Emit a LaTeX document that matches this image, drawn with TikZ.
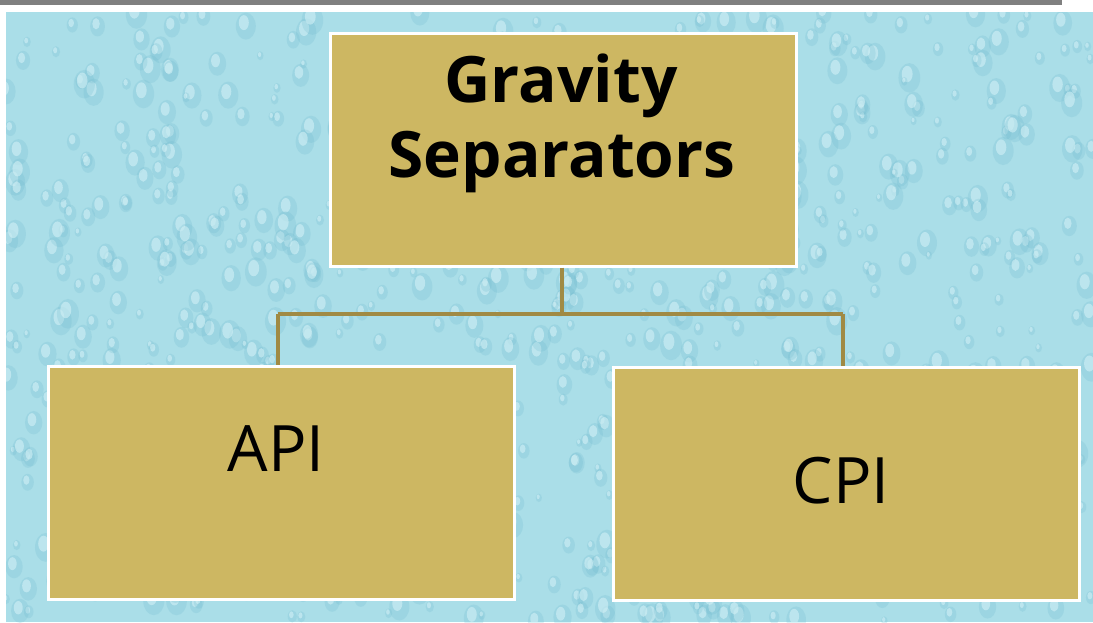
\documentclass[tikz,border=0pt]{standalone}
\usepackage{fontspec}
\setmainfont{Open Sans}
\definecolor{boxfill}{RGB}{205,183,98}
\definecolor{linec}{RGB}{160,138,68}
\definecolor{water}{RGB}{170,222,232}
\definecolor{waterlight}{RGB}{215,243,248}
\definecolor{waterdark}{RGB}{110,185,205}
\definecolor{topbar}{RGB}{128,128,128}
\tikzset{
  orgbox/.style={draw=white, line width=3pt, fill=boxfill, inner sep=0pt, text=black},
  conn/.style={draw=linec, line width=3.5pt},
}
\begin{document}
\begin{tikzpicture}[x=1pt,y=-1pt]
\useasboundingbox (0,0) rectangle (1093,622);
\fill[white] (0,0) rectangle (1093,622);
\fill[topbar] (0,0) rectangle (1062,4.5);
\fill[water] (6,12) rectangle (1093,622);
% droplet texture
\begin{scope}
\clip (6,12) rectangle (1093,622);
\pgfmathsetseed{7}
\foreach \i in {1,...,900}{
  \pgfmathsetmacro{\px}{6+rnd*1087}
  \pgfmathsetmacro{\py}{12+rnd*610}
  \pgfmathsetmacro{\r}{3+rnd*8}
  \fill[waterdark, opacity=0.22] (\px,\py) ellipse ({\r} and {\r*1.35});
  \fill[waterlight, opacity=0.55] (\px-\r*0.2,\py-\r*0.35) ellipse ({\r*0.5} and {\r*0.75});
}
\end{scope}
% boxes
\node[orgbox, minimum width=466pt, minimum height=233pt, anchor=north west] (top) at (328.5,31.5) {};
\node[orgbox, minimum width=466pt, minimum height=233pt, anchor=north west] (api) at (46.5,364.5) {};
\node[orgbox, minimum width=466pt, minimum height=233pt, anchor=north west] (cpi) at (611.5,365.5) {};
% texts
\node[font=\fontsize{64}{75}\selectfont\bfseries, inner sep=0pt, anchor=base] (t1) at (561,102) {Gravity};
\node[font=\fontsize{64}{75}\selectfont\bfseries, inner sep=0pt, anchor=base] (t2) at (562,177) {Separators};
\node[font=\fontsize{64}{80}\selectfont, inner sep=0pt, anchor=base] (a) at (276,471) {API};
\node[font=\fontsize{64}{80}\selectfont, inner sep=0pt, anchor=base] (c) at (841,503) {CPI};
% connectors
\coordinate (mid) at (562,314);
\coordinate (lj) at (278,314);
\coordinate (rj) at (843,314);
\draw[conn] (top.south -| mid) -- (mid);
\draw[conn] (lj) -- (rj);
\draw[conn] (lj) -- (api.north -| lj);
\draw[conn] (rj) -- (cpi.north -| rj);
\end{tikzpicture}
\end{document}
